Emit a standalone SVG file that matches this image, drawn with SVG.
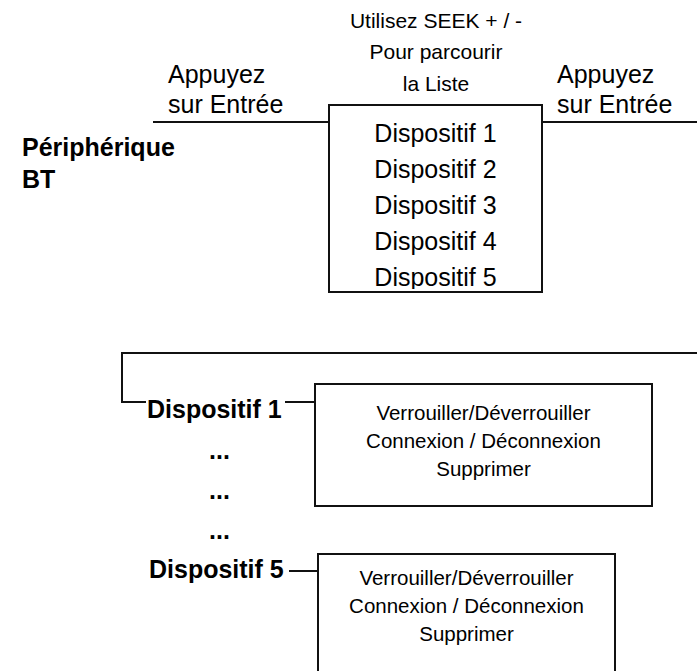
<svg xmlns="http://www.w3.org/2000/svg" width="697" height="671" viewBox="0 0 697 671">
<style>
text{font-family:"Liberation Sans",Arial,sans-serif;fill:#000}
.t21{font-size:21px}
.t25{font-size:25px}
.t20{font-size:20.5px}
.b25{font-size:25px;font-weight:bold}
.c{text-anchor:middle}
.box{fill:none;stroke:#111;stroke-width:2}
.ln{fill:none;stroke:#111;stroke-width:2}
</style>
<defs>
<clipPath id="mainclip"><rect x="329" y="105" width="213" height="184"/></clipPath>
</defs>
<rect width="697" height="671" fill="#fff"/>
<g id="connectors">
<line class="ln" x1="153" y1="122" x2="329" y2="122"/>
<line class="ln" x1="542" y1="122" x2="697" y2="122"/>
<polyline class="ln" points="697,353 122,353 122,402 146,402"/>
<line class="ln" x1="285" y1="402" x2="315" y2="402"/>
<line class="ln" x1="289" y1="571" x2="318" y2="571"/>
</g>
<g id="instructions">
<text class="t21 c" x="436" y="28">Utilisez SEEK + / -</text>
<text class="t21 c" x="436" y="59">Pour parcourir</text>
<text class="t21 c" x="436" y="91">la Liste</text>
</g>
<g id="enter-left">
<text class="t25" x="168" y="83">Appuyez</text>
<text class="t25" x="168" y="113">sur Entrée</text>
</g>
<g id="enter-right">
<text class="t25" x="557" y="83">Appuyez</text>
<text class="t25" x="557" y="113">sur Entrée</text>
</g>
<g id="peripherique">
<text class="b25" x="22" y="156">Périphérique</text>
<text class="b25" x="22" y="188">BT</text>
</g>
<g id="device-list">
<rect class="box" x="329" y="105" width="213" height="187"/>
<g clip-path="url(#mainclip)">
<text class="t25 c" x="435.5" y="142">Dispositif 1</text>
<text class="t25 c" x="435.5" y="178">Dispositif 2</text>
<text class="t25 c" x="435.5" y="214">Dispositif 3</text>
<text class="t25 c" x="435.5" y="250">Dispositif 4</text>
<text class="t25 c" x="435.5" y="286">Dispositif 5</text>
</g>
</g>
<g id="device1">
<text class="b25" x="147" y="418">Dispositif 1</text>
</g>
<g id="dots">
<text class="b25" x="209" y="459">...</text>
<text class="b25" x="209" y="499">...</text>
<text class="b25" x="209" y="539">...</text>
</g>
<g id="device5">
<text class="b25" x="149" y="578">Dispositif 5</text>
</g>
<g id="menu1">
<rect class="box" x="315" y="384" width="337" height="122"/>
<text class="t20 c" x="483.5" y="420">Verrouiller/Déverrouiller</text>
<text class="t20 c" x="483.5" y="448">Connexion / Déconnexion</text>
<text class="t20 c" x="483.5" y="476">Supprimer</text>
</g>
<g id="menu5">
<path class="box" d="M318,680 V554 H615 V680"/>
<text class="t20 c" x="466.5" y="585">Verrouiller/Déverrouiller</text>
<text class="t20 c" x="466.5" y="613">Connexion / Déconnexion</text>
<text class="t20 c" x="466.5" y="641">Supprimer</text>
</g>
</svg>
